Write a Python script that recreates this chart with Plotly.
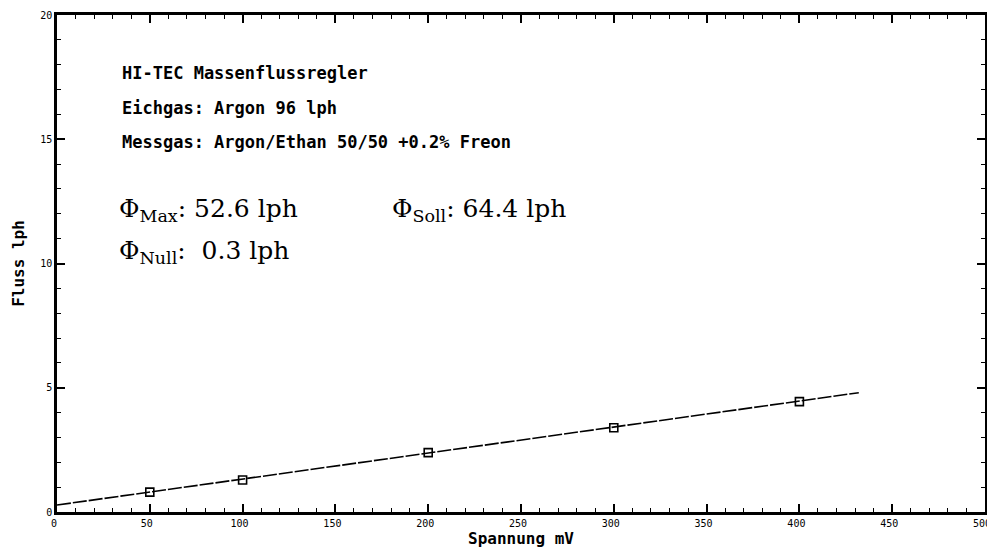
import plotly.graph_objects as go

# Data
spannung_mv = [50, 100, 200, 300, 400]
fluss_lph = [0.80, 1.29, 2.39, 3.39, 4.44]
fit_x = [0, 432]
fit_y = [0.28, 4.80]

x_ticks = [0, 50, 100, 150, 200, 250, 300, 350, 400, 450, 500]
y_ticks = [0, 5, 10, 15, 20]

info_lines = [
    "HI-TEC Massenflussregler",
    "Eichgas: Argon 96 lph",
    "Messgas: Argon/Ethan 50/50 +0.2% Freon",
]
phi_max = "Φ<sub>Max</sub>: 52.6 lph"
phi_soll = "Φ<sub>Soll</sub>: 64.4 lph"
phi_null = "Φ<sub>Null</sub>:  0.3 lph"

fig = go.Figure()
fig.add_trace(go.Scatter(
    x=fit_x, y=fit_y, mode="lines",
    line=dict(color="black", width=1.6, dash="14px,2px"),
    hoverinfo="skip", showlegend=False,
))
fig.add_trace(go.Scatter(
    x=spannung_mv, y=fluss_lph, mode="markers",
    marker=dict(symbol="square-open", size=8, color="black", line=dict(width=1.6)),
    showlegend=False,
))

mono = "DejaVu Sans Mono"
serif = "DejaVu Serif"

info_y = [17.67, 16.26, 14.89]
for txt, yy in zip(info_lines, info_y):
    fig.add_annotation(x=34, y=yy, xref="x", yref="y", text=txt, showarrow=False,
                       xanchor="left", yanchor="middle",
                       font=dict(family=mono, size=17, color="black", weight="bold"))

for txt, xx, yy in [(phi_max, 32.3, 12.17), (phi_soll, 179.4, 12.17), (phi_null, 32.3, 10.47)]:
    fig.add_annotation(x=xx, y=yy, xref="x", yref="y", text=txt, showarrow=False,
                       xanchor="left", yanchor="middle",
                       font=dict(family=serif, size=25, color="black"))

axis_common = dict(
    showline=True, linecolor="black", linewidth=2.5, mirror="ticks",
    ticks="inside", ticklen=8, tickwidth=1.5, tickcolor="black",
    showgrid=False, zeroline=False, automargin=False,
    tickfont=dict(family=mono, size=10, color="black"),
)

fig.update_xaxes(
    range=[0, 500], tickvals=x_ticks, ticktext=[str(v) for v in x_ticks],
    ticklabelshift=-3,
    minor=dict(dtick=10, ticklen=4, tickwidth=1.2, ticks="inside", tickcolor="black", showgrid=False),
    title=dict(text="Spannung mV", standoff=2,
               font=dict(family=mono, size=16, color="black", weight="bold")),
    **axis_common,
)
fig.update_yaxes(
    range=[0, 20], tickvals=y_ticks, ticktext=[str(v) for v in y_ticks],
    minor=dict(dtick=1, ticklen=4, tickwidth=1.2, ticks="inside", tickcolor="black", showgrid=False),
    title=dict(text="Fluss lph", standoff=12,
               font=dict(family=mono, size=16, color="black", weight="bold")),
    **axis_common,
)

# The page adds an 8px body margin; the figure is sized to fill the rest of the window.
fig.update_layout(
    width=987, height=545,
    margin=dict(l=49, r=10, t=7, b=41),
    paper_bgcolor="white", plot_bgcolor="white",
    showlegend=False,
)

fig.write_html("out.html")
